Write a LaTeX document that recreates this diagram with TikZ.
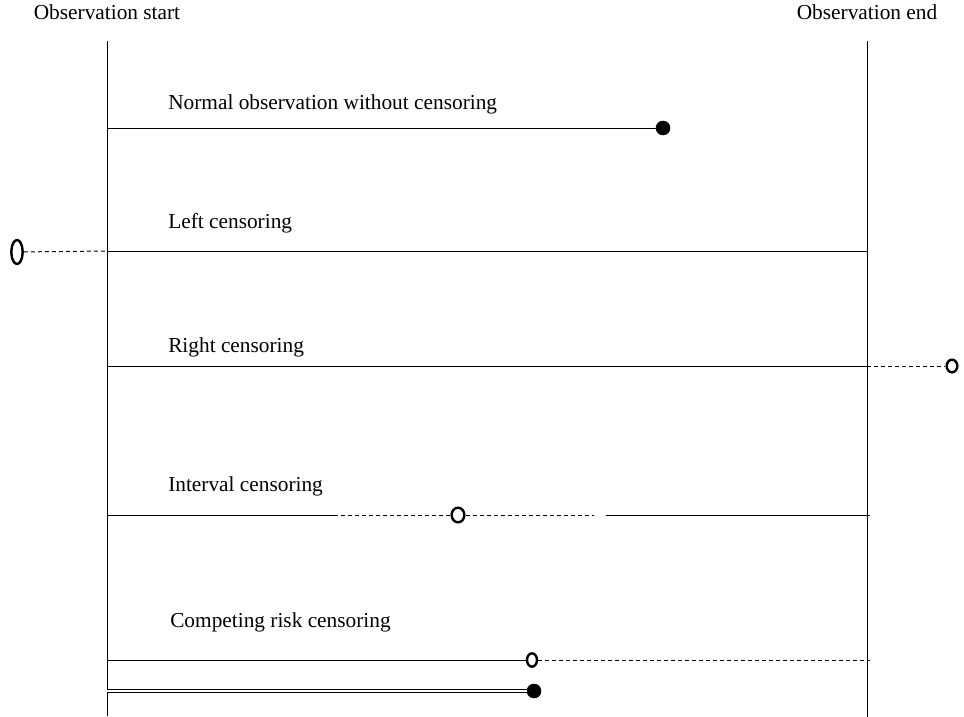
\documentclass[tikz,border=0pt]{standalone}
\usepackage{fontspec}
\setmainfont{Liberation Serif}
\usetikzlibrary{shapes.geometric}

\tikzset{
  lab/.style={anchor=base west,inner sep=0pt,font=\fontsize{16}{19}\selectfont},
  toplab/.style={anchor=base,inner sep=0pt,font=\fontsize{16}{19}\selectfont},
  hollow/.style={draw,ellipse,line width=1.8pt,inner sep=0pt,fill=white},
  event/.style={draw,circle,fill=black,inner sep=0pt,minimum size=10.5pt},
  cens/.style={dash pattern=on 3pt off 2.25pt,line width=0.75pt},
  obs/.style={line width=0.75pt}
}

\begin{document}
\begin{tikzpicture}[line cap=butt,line join=round,x=0.75pt,y=-0.75pt]
\useasboundingbox (0,0) rectangle (964,717);

% observation window
\node[toplab] (startlab) at (107,20) {Observation start};
\node[toplab] (endlab) at (867,20) {Observation end};
\coordinate (s0) at (107,41);
\coordinate (s1) at (107,716);
\coordinate (e0) at (867,41);
\coordinate (e1) at (867,717);
\draw[obs] (s0) -- (s1);
\draw[obs] (e0) -- (e1);

% normal observation
\node[lab] (normlab) at (168,109) {Normal observation without censoring};
\coordinate (n0) at (107,128);
\node[event] (ndot) at (663,128) {};
\draw[obs] (n0) -- (ndot);

% left censoring
\node[lab] (leftlab) at (168,228) {Left censoring};
\node[hollow,minimum width=8.5pt,minimum height=18pt] (lo) at (17,252) {};
\coordinate (l0) at (107,251);
\coordinate (l1) at (867,251);
\draw[cens] (lo) -- (l0);
\draw[obs] (l0) -- (l1);

% right censoring
\node[lab] (rightlab) at (168,352) {Right censoring};
\coordinate (r0) at (107,366);
\coordinate (r1) at (867,366);
\node[hollow,minimum width=8pt,minimum height=9.5pt] (ro) at (952,366) {};
\draw[obs] (r0) -- (r1);
\draw[cens] (r1) -- (ro);

% interval censoring
\node[lab] (intlab) at (168,491) {Interval censoring};
\coordinate (i0) at (107,515);
\coordinate (i1) at (334,515);
\node[hollow,minimum width=9.5pt,minimum height=11pt] (io) at (458,515) {};
\coordinate (i2) at (594,515);
\coordinate (i3) at (606,515);
\coordinate (i4) at (870,515);
\draw[obs] (i0) -- (i1);
\draw[cens] (i1) -- (io);
\draw[cens] (io) -- (i2);
\draw[obs] (i3) -- (i4);

% competing risk censoring
\node[lab] (complab) at (170,627) {Competing risk censoring};
\coordinate (c0) at (107,660);
\node[hollow,minimum width=7.5pt,minimum height=10pt] (co) at (532,660) {};
\coordinate (c1) at (870,660);
\draw[obs] (c0) -- (co);
\draw[cens] (co) -- (c1);
\coordinate (d0) at (107,691);
\node[event] (cdot) at (534,691) {};
\draw[obs,double,double distance=1.8pt] (d0) -- (cdot);
\end{tikzpicture}
\end{document}
